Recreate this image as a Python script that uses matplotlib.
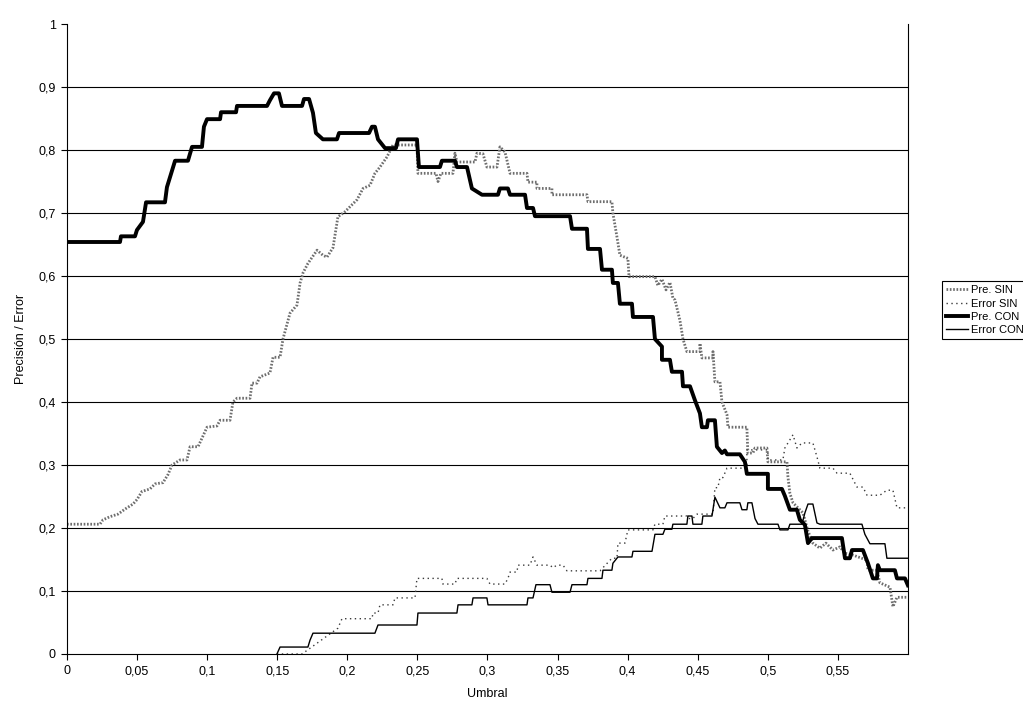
import matplotlib
matplotlib.use('Agg')
import matplotlib.pyplot as plt
from matplotlib.ticker import FixedLocator, FuncFormatter

# ── Data: (umbral, valor) for each curve ─────────────────────────────────────
pre_sin = [
    (0.0, 0.206), (0.0235, 0.206), (0.0257, 0.213), (0.0307, 0.218), (0.0364, 0.222),
    (0.0414, 0.230), (0.0471, 0.238), (0.0499, 0.245), (0.0535, 0.258), (0.0592, 0.262),
    (0.0628, 0.270), (0.0685, 0.272), (0.0721, 0.285), (0.0749, 0.300), (0.0771, 0.303),
    (0.0806, 0.308), (0.0856, 0.308), (0.0878, 0.329), (0.0935, 0.329), (0.0999, 0.360),
    (0.1070, 0.362), (0.1092, 0.371), (0.1163, 0.371), (0.1184, 0.400), (0.1213, 0.406),
    (0.1306, 0.406), (0.1320, 0.430), (0.1356, 0.430), (0.1377, 0.440), (0.1448, 0.446),
    (0.1470, 0.471), (0.1520, 0.471), (0.1541, 0.500), (0.1591, 0.541), (0.1641, 0.554),
    (0.1663, 0.589), (0.1684, 0.605), (0.1719, 0.620), (0.1784, 0.641), (0.1826, 0.633),
    (0.1855, 0.630), (0.1898, 0.645), (0.1933, 0.694), (0.1983, 0.702), (0.2019, 0.710),
    (0.2069, 0.721), (0.2112, 0.739), (0.2162, 0.744), (0.2197, 0.763), (0.2233, 0.773),
    (0.2283, 0.789), (0.2326, 0.808), (0.2497, 0.808), (0.2504, 0.763), (0.2633, 0.763),
    (0.2647, 0.750), (0.2668, 0.763), (0.2754, 0.763), (0.2768, 0.795), (0.2782, 0.781),
    (0.2911, 0.781), (0.2925, 0.795), (0.2968, 0.794), (0.2996, 0.773), (0.3068, 0.773),
    (0.3089, 0.805), (0.3125, 0.797), (0.3161, 0.763), (0.3282, 0.763), (0.3289, 0.749),
    (0.3353, 0.749), (0.3353, 0.739), (0.3460, 0.739), (0.3460, 0.729), (0.3710, 0.729),
    (0.3717, 0.718), (0.3888, 0.718), (0.3895, 0.700), (0.3924, 0.662), (0.3945, 0.633),
    (0.4002, 0.628), (0.4010, 0.599), (0.4195, 0.599), (0.4216, 0.585), (0.4245, 0.595),
    (0.4274, 0.578), (0.4302, 0.590), (0.4323, 0.565), (0.4338, 0.562), (0.4373, 0.530),
    (0.4395, 0.500), (0.4423, 0.480), (0.4516, 0.480), (0.4516, 0.493), (0.4530, 0.470),
    (0.4609, 0.470), (0.4609, 0.480), (0.4623, 0.432), (0.4659, 0.432), (0.4673, 0.400),
    (0.4709, 0.380), (0.4716, 0.360), (0.4851, 0.360), (0.4858, 0.319), (0.4894, 0.319),
    (0.4909, 0.327), (0.4994, 0.327), (0.5001, 0.305), (0.5137, 0.305), (0.5144, 0.281),
    (0.5158, 0.255), (0.5180, 0.240), (0.5251, 0.224), (0.5287, 0.195), (0.5322, 0.176),
    (0.5372, 0.168), (0.5415, 0.176), (0.5465, 0.165), (0.5515, 0.170), (0.5551, 0.160),
    (0.5608, 0.157), (0.5708, 0.149), (0.5715, 0.133), (0.5779, 0.133), (0.5800, 0.113),
    (0.5872, 0.106), (0.5893, 0.075), (0.5922, 0.090), (0.6, 0.090),
]

error_sin = [
    (0.1498, 0.0), (0.1677, 0.0), (0.1933, 0.041), (0.1962, 0.056), (0.2176, 0.056),
    (0.2183, 0.065), (0.2219, 0.065), (0.2233, 0.078), (0.2326, 0.078), (0.2340, 0.089),
    (0.2483, 0.089), (0.2497, 0.120), (0.2675, 0.120), (0.2682, 0.111), (0.2768, 0.111),
    (0.2782, 0.120), (0.2996, 0.120), (0.3018, 0.111), (0.3125, 0.111), (0.3146, 0.120),
    (0.3161, 0.130), (0.3210, 0.130), (0.3218, 0.141), (0.3303, 0.141), (0.3325, 0.154),
    (0.3353, 0.141), (0.3446, 0.141), (0.3467, 0.137), (0.3496, 0.141), (0.3539, 0.141),
    (0.3567, 0.132), (0.3803, 0.132), (0.3888, 0.152), (0.3924, 0.152), (0.3931, 0.176),
    (0.3981, 0.176), (0.4002, 0.197), (0.4181, 0.197), (0.4195, 0.206), (0.4252, 0.206),
    (0.4266, 0.219), (0.4423, 0.219), (0.4430, 0.215), (0.4466, 0.215), (0.4495, 0.222),
    (0.4609, 0.222), (0.4623, 0.264), (0.4644, 0.264), (0.4659, 0.280), (0.4680, 0.280),
    (0.4709, 0.295), (0.4851, 0.295), (0.4851, 0.324), (0.5001, 0.324), (0.5001, 0.308),
    (0.5108, 0.308), (0.5122, 0.327), (0.5180, 0.348), (0.5208, 0.327), (0.5244, 0.335),
    (0.5322, 0.335), (0.5351, 0.313), (0.5372, 0.295), (0.5465, 0.295), (0.5494, 0.287),
    (0.5586, 0.287), (0.5636, 0.265), (0.5679, 0.265), (0.5708, 0.252), (0.5800, 0.252),
    (0.5850, 0.260), (0.5893, 0.260), (0.5922, 0.232), (0.6, 0.232),
]

pre_con = [
    (0.0, 0.654), (0.0378, 0.654), (0.0385, 0.663), (0.0485, 0.663), (0.0499, 0.673),
    (0.0542, 0.686), (0.0564, 0.717), (0.0699, 0.717), (0.0713, 0.741), (0.0771, 0.783),
    (0.0863, 0.783), (0.0892, 0.805), (0.0963, 0.805), (0.0977, 0.837), (0.0999, 0.849),
    (0.1092, 0.849), (0.1099, 0.860), (0.1206, 0.860), (0.1213, 0.870), (0.1427, 0.870),
    (0.1448, 0.879), (0.1477, 0.890), (0.1512, 0.890), (0.1534, 0.870), (0.1677, 0.870),
    (0.1691, 0.881), (0.1727, 0.881), (0.1755, 0.859), (0.1776, 0.827), (0.1826, 0.817),
    (0.1926, 0.817), (0.1941, 0.827), (0.2155, 0.827), (0.2176, 0.837), (0.2197, 0.837),
    (0.2219, 0.817), (0.2269, 0.803), (0.2347, 0.803), (0.2362, 0.817), (0.2497, 0.817),
    (0.2511, 0.773), (0.2661, 0.773), (0.2675, 0.783), (0.2768, 0.783), (0.2782, 0.773),
    (0.2854, 0.773), (0.2889, 0.739), (0.2961, 0.729), (0.3075, 0.729), (0.3089, 0.739),
    (0.3146, 0.739), (0.3161, 0.729), (0.3268, 0.729), (0.3282, 0.708), (0.3325, 0.708),
    (0.3339, 0.695), (0.3589, 0.695), (0.3603, 0.675), (0.3710, 0.675), (0.3717, 0.643),
    (0.3803, 0.643), (0.3817, 0.610), (0.3888, 0.610), (0.3895, 0.589), (0.3931, 0.589),
    (0.3945, 0.556), (0.4031, 0.556), (0.4038, 0.535), (0.4181, 0.535), (0.4195, 0.500),
    (0.4245, 0.488), (0.4245, 0.467), (0.4302, 0.467), (0.4316, 0.448), (0.4388, 0.448),
    (0.4395, 0.425), (0.4445, 0.425), (0.4480, 0.403), (0.4516, 0.382), (0.4530, 0.360),
    (0.4566, 0.360), (0.4573, 0.371), (0.4623, 0.371), (0.4637, 0.329), (0.4673, 0.319),
    (0.4694, 0.323), (0.4709, 0.317), (0.4801, 0.317), (0.4837, 0.305), (0.4851, 0.286),
    (0.5001, 0.286), (0.5001, 0.262), (0.5101, 0.262), (0.5122, 0.251), (0.5158, 0.229),
    (0.5208, 0.229), (0.5229, 0.213), (0.5265, 0.205), (0.5287, 0.176), (0.5315, 0.184),
    (0.5529, 0.184), (0.5551, 0.152), (0.5586, 0.152), (0.5601, 0.165), (0.5679, 0.165),
    (0.5715, 0.144), (0.5750, 0.120), (0.5779, 0.120), (0.5786, 0.141), (0.5800, 0.133),
    (0.5907, 0.133), (0.5922, 0.120), (0.5979, 0.120), (0.6, 0.109),
]

error_con = [
    (0.1498, 0.0), (0.1520, 0.011), (0.1719, 0.011), (0.1734, 0.022), (0.1755, 0.033),
    (0.2197, 0.033), (0.2219, 0.046), (0.2497, 0.046), (0.2504, 0.065), (0.2782, 0.065),
    (0.2790, 0.078), (0.2889, 0.078), (0.2897, 0.089), (0.2996, 0.089), (0.3004, 0.078),
    (0.3282, 0.078), (0.3289, 0.089), (0.3325, 0.089), (0.3346, 0.110), (0.3446, 0.110),
    (0.3460, 0.098), (0.3589, 0.098), (0.3603, 0.110), (0.3710, 0.110), (0.3717, 0.120),
    (0.3817, 0.120), (0.3824, 0.133), (0.3888, 0.133), (0.3895, 0.144), (0.3931, 0.154),
    (0.4031, 0.154), (0.4038, 0.163), (0.4174, 0.163), (0.4195, 0.190), (0.4252, 0.190),
    (0.4266, 0.198), (0.4316, 0.198), (0.4323, 0.206), (0.4423, 0.206), (0.4430, 0.219),
    (0.4459, 0.219), (0.4466, 0.206), (0.4530, 0.206), (0.4537, 0.219), (0.4602, 0.219),
    (0.4623, 0.249), (0.4659, 0.232), (0.4694, 0.232), (0.4709, 0.240), (0.4801, 0.240),
    (0.4816, 0.229), (0.4851, 0.229), (0.4858, 0.240), (0.4887, 0.240), (0.4909, 0.215),
    (0.4930, 0.206), (0.5073, 0.206), (0.5087, 0.197), (0.5144, 0.197), (0.5158, 0.206),
    (0.5244, 0.206), (0.5265, 0.224), (0.5287, 0.238), (0.5322, 0.238), (0.5351, 0.208),
    (0.5372, 0.206), (0.5672, 0.206), (0.5693, 0.190), (0.5729, 0.175), (0.5836, 0.175),
    (0.5850, 0.152), (0.6, 0.152),
]

x_ticks = [0, 0.05, 0.1, 0.15, 0.2, 0.25, 0.3, 0.35, 0.4, 0.45, 0.5, 0.55]
y_ticks = [0, 0.1, 0.2, 0.3, 0.4, 0.5, 0.6, 0.7, 0.8, 0.9, 1]

# ── Figure ───────────────────────────────────────────────────────────────────
plt.rcParams['font.family'] = ['Liberation Sans', 'DejaVu Sans']

fig = plt.figure(figsize=(10.23, 7.09), dpi=100)
ax = fig.add_axes([0.0655, 0.0776, 0.822, 0.8885])

for yv in y_ticks[1:-1]:
    ax.axhline(yv, color='black', lw=0.8, zorder=1)

def xy(series):
    return [p[0] for p in series], [p[1] for p in series]

x, y = xy(pre_sin)
ax.plot(x, y, color='#6e6e6e', lw=2.0, ls=(0, (0.6, 0.6)), label='Pre. SIN', zorder=2)
x, y = xy(error_sin)
ax.plot(x, y, color='#3a3a3a', lw=1.0, ls=(0, (1, 2.5)), label='Error SIN', zorder=3)
x, y = xy(pre_con)
ax.plot(x, y, color='black', lw=2.8, label='Pre. CON', zorder=4)
x, y = xy(error_con)
ax.plot(x, y, color='black', lw=1.0, label='Error CON', zorder=5)

ax.set_xlim(0, 0.6)
ax.set_ylim(0, 1)
ax.xaxis.set_major_locator(FixedLocator(x_ticks))
ax.yaxis.set_major_locator(FixedLocator(y_ticks))
fmt = FuncFormatter(lambda v, pos: f'{v:g}'.replace('.', ','))
ax.xaxis.set_major_formatter(fmt)
ax.yaxis.set_major_formatter(fmt)
ax.tick_params(direction='out', length=4, width=0.8, labelsize=9, colors='black', pad=4)

ax.spines['top'].set_visible(False)
for s in ('left', 'bottom', 'right'):
    ax.spines[s].set_linewidth(0.8)
    ax.spines[s].set_color('black')

ax.set_xlabel('Umbral', fontsize=9, labelpad=8)
ax.set_ylabel('Precisión / Error', fontsize=9, labelpad=8)

# legend sits in the right margin, next to the plot area
leg = fig.legend(loc='upper left', bbox_to_anchor=(0.921, 0.603), fontsize=8,
                 handlelength=2.0, handletextpad=0.2, borderpad=0.35,
                 labelspacing=0.3, borderaxespad=0, fancybox=False,
                 framealpha=1, edgecolor='black')
leg.get_frame().set_linewidth(0.8)

fig.savefig('out.png', dpi=100)
